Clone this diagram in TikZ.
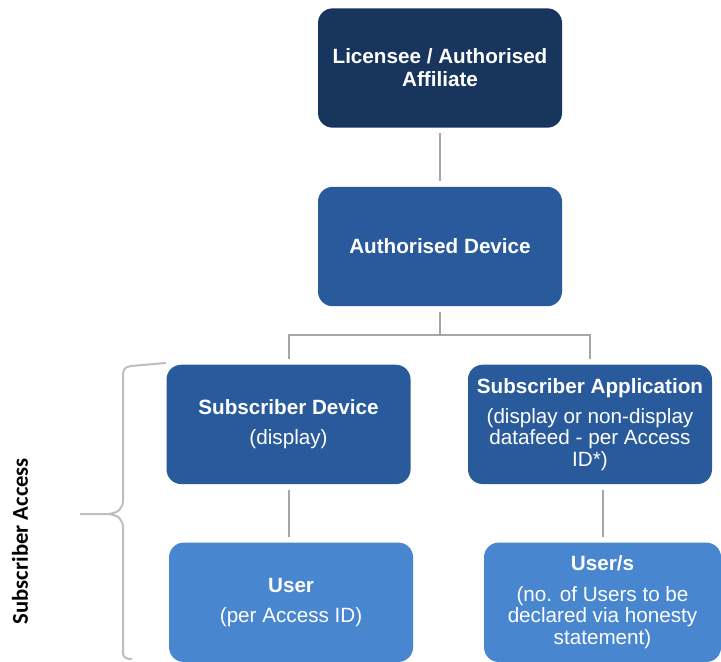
\documentclass[tikz,border=0pt]{standalone}
\usepackage{fontspec}
\setmainfont{Liberation Sans}
\newfontfamily\bracefont{Carlito}
\usetikzlibrary{positioning}
\definecolor{navy}{RGB}{24,54,93}
\definecolor{midblue}{RGB}{41,90,155}
\definecolor{lightblue}{RGB}{72,134,208}
\definecolor{wiregray}{RGB}{166,166,166}
\definecolor{bracegray}{RGB}{190,190,190}

\begin{document}
\begin{tikzpicture}[x=0.75pt,y=-0.75pt,box/.style={rectangle, rounded corners=11pt, text=white, align=center, inner sep=0pt, minimum width=183pt, minimum height=89.5pt, font=\fontsize{15.5}{16.2}\selectfont},affiliate/.style={box, fill=navy},device/.style={box, fill=midblue},enduser/.style={box, fill=lightblue},wire/.style={draw=wiregray, line width=1.5pt, shorten <=4pt, shorten >=4pt}]
                \useasboundingbox (0,0) rectangle (721,661);
                \node[affiliate] (licensee) at (440,68) {\textbf{Licensee / Authorised}\\[1pt]\textbf{Affiliate}};
                \node[device, below=44pt of licensee] (authdev) {\textbf{Authorised Device}};
                \node[device, below=43.5pt of authdev, xshift=-113.6pt] (subdev) {\textbf{Subscriber Device}\\[6.5pt](display)};
                \node[device, below=43.5pt of authdev, xshift=112.5pt] (subapp) {\textbf{Subscriber Application}\\[6.5pt](display or non-display\\datafeed - per Access\\ID*)};
                \node[enduser, below=43.5pt of subdev, xshift=1.9pt] (user) {\textbf{User}\\[6.5pt](per Access ID)};
                \node[enduser, below=43.5pt of subapp, xshift=9.4pt, minimum width=177.75pt] (users) {\textbf{User/s}\\[6.5pt](no. of Users to be\\declared via honesty\\statement)};
                \node[rotate=90, font=\bracefont\bfseries\fontsize{17}{20}\selectfont] (access) at (20,541) {Subscriber Access};
                \draw[wire] (licensee) -- (authdev);
                \draw[wire] (authdev.south) -- ++(0,29) -| (subdev.north);
                \draw[wire] (authdev.south) -- ++(0,29) -| (subapp.north);
                \draw[wire] (subdev.south) -- (subdev.south |- user.north);
                \draw[wire] (subapp.south -| users.north) -- (users.north);
                % brace round the subscriber boxes
                \draw[bracegray, line width=1.5pt] (166,363) -- (131,366) .. controls (125,367) and (123,369) .. (123,376) -- (123,500) .. controls (123,509) and (118,513) .. (108,514) -- (80,514);
                \draw[bracegray, line width=1.5pt] (108,514) .. controls (118,515) and (123,519) .. (123,528) -- (123,652) .. controls (123,657) and (125,659) .. (132,659);
            \end{tikzpicture}
\end{document}
